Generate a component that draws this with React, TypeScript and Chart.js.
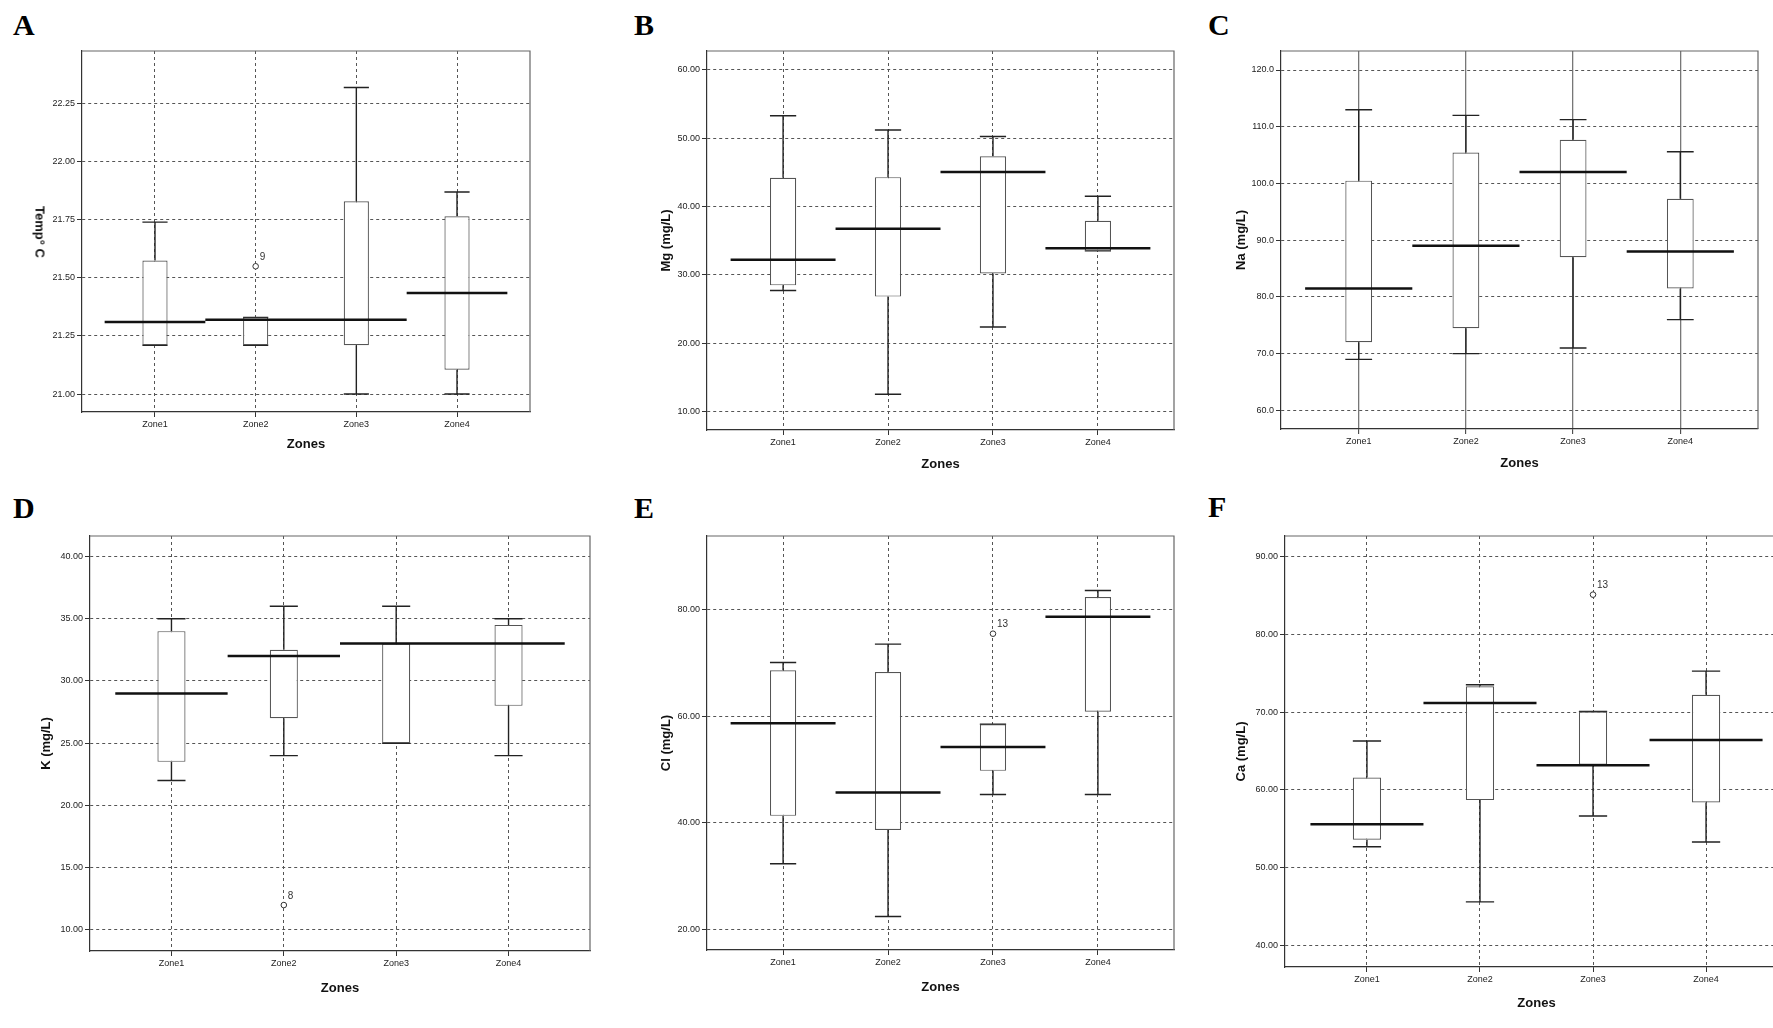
import React, { useEffect, useRef } from "react";
import { Chart, registerables } from "chart.js";

Chart.register(...registerables);
Chart.defaults.font.family = "'Liberation Sans', Arial, sans-serif";
Chart.defaults.color = "#222";

// ---------- data ----------
const zones = ["Zone1", "Zone2", "Zone3", "Zone4"];

// A: Temperature
const tempMin = [21.21, 21.21, 21.0, 21.0];
const tempQ1 = [21.21, 21.21, 21.21, 21.105];
const tempMedian = [21.31, 21.32, 21.32, 21.435];
const tempQ3 = [21.575, 21.33, 21.83, 21.765];
const tempMax = [21.74, 21.33, 22.32, 21.87];
const tempTicks = [21.0, 21.25, 21.5, 21.75, 22.0, 22.25];
const tempOutZone = [2];
const tempOutValue = [21.55];
const tempOutLabel = ["9"];

// B: Mg
const mgMin = [27.7, 12.5, 22.35, 33.5];
const mgQ1 = [28.45, 26.8, 30.2, 33.5];
const mgMedian = [32.2, 36.75, 45.05, 33.9];
const mgQ3 = [44.2, 44.3, 47.35, 37.9];
const mgMax = [53.3, 51.2, 50.25, 41.5];
const mgTicks = [10, 20, 30, 40, 50, 60];

// C: Na
const naMin = [69.0, 70.0, 71.0, 76.0];
const naQ1 = [72.0, 74.5, 87.0, 81.5];
const naMedian = [81.5, 89.0, 102.0, 88.0];
const naQ3 = [100.5, 105.45, 107.7, 97.3];
const naMax = [113.0, 112.0, 111.25, 105.6];
const naTicks = [60, 70, 80, 90, 100, 110, 120];

// D: K
const kMin = [22, 24, 25, 24];
const kQ1 = [23.5, 27, 25, 28];
const kMedian = [29, 32, 33, 33];
const kQ3 = [34, 32.5, 33, 34.5];
const kMax = [35, 36, 36, 35];
const kTicks = [10, 15, 20, 25, 30, 35, 40];
const kOutZone = [2];
const kOutValue = [12.0];
const kOutLabel = ["8"];

// E: Cl
const clMin = [32.3, 22.4, 45.3, 45.3];
const clQ1 = [41.3, 38.65, 49.75, 60.85];
const clMedian = [58.7, 45.7, 54.25, 78.7];
const clQ3 = [68.65, 68.3, 58.5, 82.4];
const clMax = [70.1, 73.55, 58.5, 83.6];
const clTicks = [20, 40, 60, 80];
const clOutZone = [3];
const clOutValue = [75.5];
const clOutLabel = ["13"];

// F: Ca
const caMin = [52.7, 45.6, 56.65, 53.3];
const caQ1 = [53.6, 58.7, 63.25, 58.4];
const caMedian = [55.6, 71.2, 63.2, 66.45];
const caQ3 = [61.6, 73.35, 70.1, 72.25];
const caMax = [66.3, 73.55, 70.1, 75.3];
const caTicks = [40, 50, 60, 70, 80, 90];
const caOutZone = [3];
const caOutValue = [85.15];
const caOutLabel = ["13"];

// ---------- panel configs (layout + references to data) ----------
type PanelCfg = {
  letter: string;
  letterX: number;
  letterBase: number;
  yTitle: string;
  htmlTitle?: boolean;
  L: number; T: number; R: number; B: number;
  yW: number; xH: number;
  yMin: number; yMax: number;
  ticks: number[]; dec: number;
  min: number[]; q1: number[]; med: number[]; q3: number[]; max: number[];
  outZone: number[]; outValue: number[]; outLabel: string[];
  solidX?: boolean;
};

const panels: PanelCfg[] = [
  { letter: "A", letterX: 13, letterBase: 35, yTitle: "Temp\u00b0 C", htmlTitle: true,
    L: 82, T: 51, R: 530, B: 412, yW: 50, xH: 40, yMin: 20.9226, yMax: 22.477,
    ticks: tempTicks, dec: 2, min: tempMin, q1: tempQ1, med: tempMedian, q3: tempQ3, max: tempMax,
    outZone: tempOutZone, outValue: tempOutValue, outLabel: tempOutLabel },
  { letter: "B", letterX: 634, letterBase: 35, yTitle: "Mg (mg/L)",
    L: 707, T: 51, R: 1174, B: 430, yW: 48, xH: 42, yMin: 7.26, yMax: 62.78,
    ticks: mgTicks, dec: 2, min: mgMin, q1: mgQ1, med: mgMedian, q3: mgQ3, max: mgMax,
    outZone: [], outValue: [], outLabel: [] },
  { letter: "C", letterX: 1208, letterBase: 35, yTitle: "Na (mg/L)",
    L: 1281, T: 51, R: 1758, B: 429, yW: 47, xH: 42, yMin: 56.72, yMax: 123.35,
    ticks: naTicks, dec: 1, min: naMin, q1: naQ1, med: naMedian, q3: naQ3, max: naMax,
    outZone: [], outValue: [], outLabel: [], solidX: true },
  { letter: "D", letterX: 13, letterBase: 518, yTitle: "K (mg/L)",
    L: 90, T: 536, R: 590, B: 951, yW: 51, xH: 45, yMin: 8.31, yMax: 41.64,
    ticks: kTicks, dec: 2, min: kMin, q1: kQ1, med: kMedian, q3: kQ3, max: kMax,
    outZone: kOutZone, outValue: kOutValue, outLabel: kOutLabel },
  { letter: "E", letterX: 634, letterBase: 518, yTitle: "Cl (mg/L)",
    L: 707, T: 536, R: 1174, B: 950, yW: 48, xH: 45, yMin: 16.12, yMax: 93.84,
    ticks: clTicks, dec: 2, min: clMin, q1: clQ1, med: clMedian, q3: clQ3, max: clMax,
    outZone: clOutZone, outValue: clOutValue, outLabel: clOutLabel },
  { letter: "F", letterX: 1208, letterBase: 517, yTitle: "Ca (mg/L)",
    L: 1285, T: 536, R: 1788, B: 967, yW: 51, xH: 44, yMin: 37.21, yMax: 92.7,
    ticks: caTicks, dec: 2, min: caMin, q1: caQ1, med: caMedian, q3: caQ3, max: caMax,
    outZone: caOutZone, outValue: caOutValue, outLabel: caOutLabel },
];

const PAD_T = 10;
const PAD_R = 10;
const X_MIN = 0.275;
const X_MAX = 4.725;
const BOX_FRAC = 0.25;
const CAP_HALF = 0.125;
const MED_HALF = 0.5;

const framePlugin = {
  id: "frame",
  beforeDatasetsDraw(chart: any) {
    const { ctx, chartArea: a } = chart;
    ctx.save();
    ctx.strokeStyle = "#666";
    ctx.lineWidth = 1.2;
    ctx.beginPath();
    ctx.moveTo(a.left, a.top);
    ctx.lineTo(a.right, a.top);
    ctx.lineTo(a.right, a.bottom);
    ctx.stroke();
    ctx.restore();
  },
};

const outlierLabelPlugin = {
  id: "outlierLabels",
  afterDatasetsDraw(chart: any, _args: any, opts: any) {
    const { ctx } = chart;
    const xs = chart.scales.x;
    const ys = chart.scales.y;
    (opts.items || []).forEach((o: any) => {
      const px = xs.getPixelForValue(o.x);
      const py = ys.getPixelForValue(o.y);
      ctx.save();
      ctx.font = "10px 'Liberation Sans', Arial, sans-serif";
      ctx.fillStyle = "#333";
      ctx.textAlign = "left";
      ctx.textBaseline = "middle";
      ctx.fillText(o.label, px + 4, py - 9);
      ctx.restore();
    });
  },
};

function whiskerPoints(c: PanelCfg) {
  const pts: any[] = [];
  c.min.forEach((_, i) => {
    const x = i + 1;
    pts.push({ x, y: c.q3[i] }, { x, y: c.max[i] }, { x, y: null });
    pts.push({ x: x - CAP_HALF, y: c.max[i] }, { x: x + CAP_HALF, y: c.max[i] }, { x, y: null });
    pts.push({ x, y: c.q1[i] }, { x, y: c.min[i] }, { x, y: null });
    pts.push({ x: x - CAP_HALF, y: c.min[i] }, { x: x + CAP_HALF, y: c.min[i] }, { x, y: null });
  });
  return pts;
}

function medianPoints(c: PanelCfg) {
  const pts: any[] = [];
  c.med.forEach((m, i) => {
    const x = i + 1;
    pts.push({ x: x - MED_HALF, y: m }, { x: x + MED_HALF, y: m }, { x, y: null });
  });
  return pts;
}

function BoxPanel({ c }: { c: PanelCfg }) {
  const ref = useRef<HTMLCanvasElement>(null);
  const w = c.R - c.L + c.yW + PAD_R;
  const h = c.B - c.T + PAD_T + c.xH;

  useEffect(() => {
    const canvas = ref.current;
    if (!canvas) return;
    const gridColor = "#555";
    const outliers = c.outZone.map((z, i) => ({ x: z, y: c.outValue[i] }));
    const labelItems = c.outZone.map((z, i) => ({ x: z, y: c.outValue[i], label: c.outLabel[i] }));
    const chart = new Chart(canvas, {
      type: "bar",
      data: {
        datasets: [
          {
            type: "line", label: "median", data: medianPoints(c) as any,
            borderColor: "#111", borderWidth: 2.5, pointRadius: 0, fill: false, spanGaps: false, order: 0,
          } as any,
          {
            type: "line", label: "outliers", data: outliers as any, showLine: false,
            pointRadius: 2.8, pointBorderWidth: 1, pointBorderColor: "#333", pointBackgroundColor: "#fff", order: 1,
          } as any,
          {
            type: "bar", label: "box",
            data: c.q1.map((q, i) => ({ x: i + 1, y: [q, c.q3[i]] })) as any,
            backgroundColor: "#fff", borderColor: "#555", borderWidth: 1.2, borderSkipped: false,
            barPercentage: BOX_FRAC, categoryPercentage: 1, grouped: false, order: 2,
          } as any,
          {
            type: "line", label: "whiskers", data: whiskerPoints(c) as any,
            borderColor: "#222", borderWidth: 1.4, pointRadius: 0, fill: false, spanGaps: false, order: 3,
          } as any,
        ],
      },
      options: {
        animation: false,
        responsive: false,
        events: [],
        layout: { padding: { top: PAD_T, right: PAD_R, left: 0, bottom: 0 } },
        plugins: {
          legend: { display: false },
          tooltip: { enabled: false },
          outlierLabels: { items: labelItems },
        } as any,
        scales: {
          x: {
            type: "linear",
            position: "bottom",
            min: X_MIN,
            max: X_MAX,
            offset: false,
            afterBuildTicks: (a: any) => { a.ticks = zones.map((_, i) => ({ value: i + 1 })); },
            afterFit: (s: any) => { s.height = c.xH; },
            ticks: {
              callback: (_v: any, i: number) => zones[i],
              font: { size: 9 }, color: "#222", padding: 2, maxRotation: 0, autoSkip: false,
            },
            grid: {
              offset: false,
              color: c.solidX ? "#777" : gridColor,
              lineWidth: c.solidX ? 1.3 : 1,
              tickLength: 5, tickColor: "#333", tickWidth: 1,
            },
            border: { display: true, color: "#333", width: 1.2, dash: c.solidX ? [] : [3, 3] },
            title: {
              display: true, text: "Zones", color: "#111",
              font: { size: 13, weight: "bold" }, padding: 0,
            },
          },
          y: {
            type: "linear",
            min: c.yMin,
            max: c.yMax,
            beginAtZero: false,
            afterBuildTicks: (a: any) => { a.ticks = c.ticks.map((v) => ({ value: v })); },
            afterFit: (s: any) => { s.width = c.yW; },
            ticks: {
              callback: (v: any) => Number(v).toFixed(c.dec),
              font: { size: 9 }, color: "#222", padding: 2, autoSkip: false,
            },
            grid: { color: gridColor, lineWidth: 1, tickLength: 5, tickColor: "#333", tickWidth: 1 },
            border: { display: true, color: "#333", width: 1.2, dash: [3, 3] },
            title: {
              display: !c.htmlTitle, text: c.yTitle, color: "#111",
              font: { size: 13, weight: "bold" }, padding: 0,
            },
          },
        } as any,
      },
      plugins: [framePlugin, outlierLabelPlugin],
    } as any);
    return () => chart.destroy();
  }, []);

  return (
    <canvas
      ref={ref}
      width={w}
      height={h}
      style={{ position: "absolute", left: c.L - c.yW, top: c.T - PAD_T, width: w, height: h }}
    />
  );
}

export default function App() {
  return (
    <div
      style={{
        position: "absolute", left: 0, top: 0, width: 1773, height: 1028,
        overflow: "hidden", background: "#fff",
      }}
    >
      {panels.map((c) => (
        <BoxPanel key={c.letter} c={c} />
      ))}
      {panels.map((c) => (
        <div
          key={"l" + c.letter}
          style={{
            position: "absolute", left: c.letterX, top: c.letterBase - 25,
            font: "bold 30px 'Liberation Serif', 'Times New Roman', serif",
            lineHeight: "30px", color: "#000",
          }}
        >
          {c.letter}
        </div>
      ))}
      {panels.filter((c) => c.htmlTitle).map((c) => (
        <div
          key={"t" + c.letter}
          style={{
            position: "absolute", left: c.L - 42, top: (c.T + c.B) / 2,
            transform: "translate(-50%, -50%) rotate(90deg)",
            font: "bold 13px 'Liberation Sans', Arial, sans-serif",
            color: "#111", whiteSpace: "nowrap",
          }}
        >
          {c.yTitle}
        </div>
      ))}
    </div>
  );
}
